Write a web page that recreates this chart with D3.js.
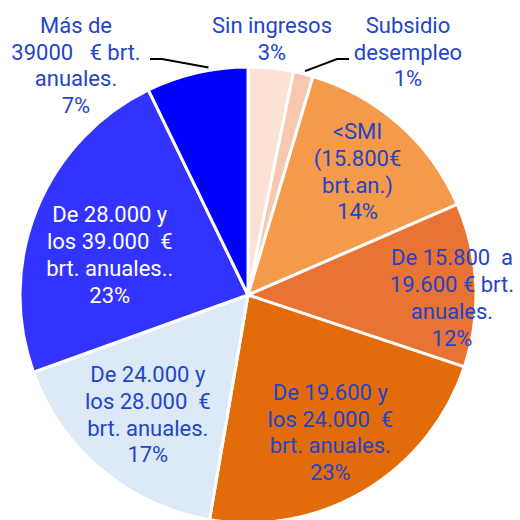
<!DOCTYPE html>
<meta charset="utf-8">
<style>
body { margin: 0; background: #fff; }
text { font-family: Roboto, "DejaVu Sans", sans-serif; font-size: 22px; }
</style>
<body>
<script src="https://d3js.org/d3.v7.min.js"></script>
<script>
// slice data, clockwise from 12 o'clock
var categories = ["Sin ingresos", "Subsidio desempleo", "<SMI (15.800€ brt.an.)",
    "De 15.800 a 19.600 € brt. anuales.", "De 19.600 y los 24.000 € brt. anuales.",
    "De 24.000 y los 28.000 € brt. anuales.", "De 28.000 y los 39.000 € brt. anuales..",
    "Más de 39000 € brt. anuales."];
var values = [3.2, 1.4, 13.9, 11.6, 22.6, 16.8, 23.3, 7.2];
var labelLines = [
    ["Sin ingresos"],
    ["Subsidio", "desempleo"],
    ["<SMI", "(15.800€", "brt.an.)"],
    ["De 15.800\u00a0 a", "19.600 € brt.", "anuales."],
    ["De 19.600 y", "los 24.000\u00a0 €", "brt. anuales."],
    ["De 24.000 y", "los 28.000\u00a0 €", "brt. anuales."],
    ["De 28.000 y", "los 39.000\u00a0 €", "brt. anuales.."],
    ["Más de", "39000 \u00a0 € brt.", "anuales."]
];
var colors = ["#FBE2D5", "#F8C8AE", "#F5994A", "#E97333", "#E36C0A", "#DCE9F6", "#3333FF", "#0000FF"];
var textColors = ["#1F45C8", "#1F45C8", "#1F45C8", "#1F45C8", "#1F45C8", "#1F45C8", "#ffffff", "#1F45C8"];

var width = 520, height = 520,
    cx = 248, cy = 295, radius = 228, lineH = 26.8;

// where each label block sits: inside ones by radius and position across the slice,
// outside ones at a fixed spot
var labelRadius = [null, null, 165, 204, 160, 156, 144, null];
var labelFrac = [null, null, 0.5, 0.58, 0.5, 0.5, 0.43, null];
var outsidePos = { 0: [272, 25], 1: [408, 25], 7: [76, 25] };

var svg = d3.select("body").append("svg")
    .attr("width", width)
    .attr("height", height);

var g = svg.append("g")
    .attr("transform", "translate(" + cx + "," + cy + ")");

var pie = d3.pie().sort(null).value(function(d) { return d; });
var arcs = pie(values);

var arc = d3.arc().innerRadius(0).outerRadius(radius);

g.selectAll("path.slice")
    .data(arcs)
  .enter().append("path")
    .attr("class", "slice")
    .attr("d", arc)
    .attr("fill", function(d, i) { return colors[i]; })
    .attr("stroke", "#fff")
    .attr("stroke-width", 3)
    .attr("stroke-linejoin", "round");

// leader lines for the small slices
function edgePoint(d, frac, r) {
    var a = d.startAngle + (d.endAngle - d.startAngle) * frac;
    return [cx + Math.sin(a) * r, cy - Math.cos(a) * r];
}
var leaders = [
    { i: 7, frac: 0.62, pts: [[162, 59], [150, 59]] },
    { i: 1, frac: 0.55, pts: [[337, 59], [349, 59]] }
];
leaders.forEach(function(l) {
    var p = edgePoint(arcs[l.i], l.frac, radius + 3);
    svg.append("path")
        .attr("d", d3.line()([p].concat(l.pts)))
        .attr("fill", "none")
        .attr("stroke", "#000")
        .attr("stroke-width", 2);
});

// labels
arcs.forEach(function(d, i) {
    var lines = labelLines[i].concat([Math.round(values[i]) + "%"]);
    var x, yTop;
    if (outsidePos[i]) {
        x = outsidePos[i][0];
        yTop = outsidePos[i][1];
    } else {
        var a = d.startAngle + (d.endAngle - d.startAngle) * labelFrac[i];
        x = cx + Math.sin(a) * labelRadius[i];
        var yc = cy - Math.cos(a) * labelRadius[i];
        yTop = yc - (lines.length - 1) * lineH / 2;
    }
    var t = svg.append("text")
        .attr("text-anchor", "middle")
        .attr("fill", textColors[i]);
    lines.forEach(function(s, k) {
        t.append("tspan")
            .attr("x", x)
            .attr("y", yTop + k * lineH)
            .attr("dy", "0.35em")
            .text(s);
    });
});
</script>
</body>
